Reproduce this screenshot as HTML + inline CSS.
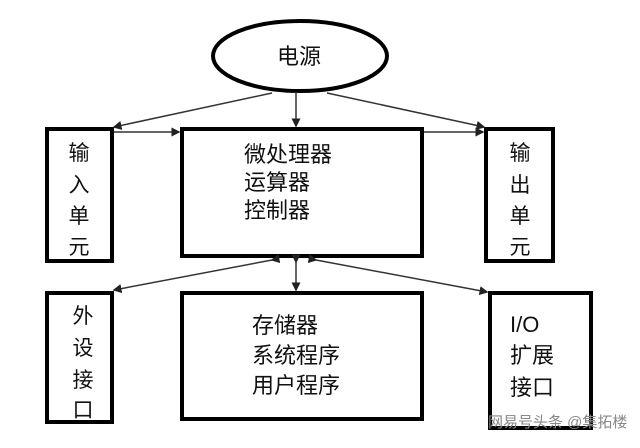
<!DOCTYPE html>
<html><head><meta charset="utf-8"><style>
body{margin:0;background:#fff;}
svg text{font-family:"Liberation Sans","Noto Sans CJK SC",sans-serif;fill:#111;}
</style></head><body>
<svg width="640" height="443" viewBox="0 0 640 443" xmlns="http://www.w3.org/2000/svg">
<defs>
<marker id="a" markerWidth="6" markerHeight="6" refX="5" refY="3" orient="auto"><path d="M0,0 L6,3 L0,6 z" fill="#222"/></marker>
</defs>
<rect width="640" height="443" fill="#fff"/>
<ellipse cx="300" cy="56" rx="87" ry="35" fill="#fff" stroke="#000" stroke-width="4"/>
<text x="299" y="64" font-size="22" text-anchor="middle">电源</text>
<g fill="none" stroke="#000" stroke-width="4">
<rect x="47" y="129" width="65" height="132"/>
<rect x="182" y="129" width="240" height="127"/>
<rect x="486" y="129" width="67" height="132"/>
<rect x="47" y="293" width="65" height="129"/>
<rect x="182" y="293" width="240" height="126"/>
<rect x="490" y="293" width="101" height="135"/>
</g>
<g stroke="#333" stroke-width="1.5" fill="none">
<line x1="272" y1="93" x2="114" y2="127" marker-end="url(#a)"/>
<line x1="296" y1="92" x2="296" y2="126" marker-end="url(#a)"/>
<line x1="327" y1="93" x2="484" y2="127" marker-end="url(#a)"/>
<line x1="114" y1="132" x2="179" y2="132" marker-end="url(#a)"/>
<line x1="424" y1="132" x2="483" y2="132" marker-end="url(#a)"/>
<line x1="272" y1="260" x2="114" y2="290" marker-end="url(#a)" marker-start="url(#a)"/>
<line x1="296" y1="262" x2="296" y2="290" marker-end="url(#a)" marker-start="url(#a)"/>
<line x1="316" y1="260" x2="487" y2="292" marker-end="url(#a)" marker-start="url(#a)"/>
</g>
<g font-size="21" text-anchor="middle">
<text x="79" y="160">输</text><text x="79" y="192">入</text><text x="79" y="223">单</text><text x="79" y="254">元</text>
<text x="520" y="160">输</text><text x="520" y="192">出</text><text x="520" y="223">单</text><text x="520" y="254">元</text>
<text x="83" y="323">外</text><text x="83" y="355">设</text><text x="83" y="387">接</text><text x="83" y="417">口</text>
</g>
<g font-size="22">
<text x="244" y="162">微处理器</text>
<text x="244" y="190">运算器</text>
<text x="244" y="218">控制器</text>
<text x="252" y="333">存储器</text>
<text x="252" y="363">系统程序</text>
<text x="252" y="393">用户程序</text>
<text x="510" y="332" font-family="Liberation Mono,monospace">I/O</text>
<text x="510" y="363">扩展</text>
<text x="510" y="395">接口</text>
</g>
<text x="488" y="427" font-size="15" style="fill:#888">网易号头条 @集拓楼</text>
</svg>
</body></html>
